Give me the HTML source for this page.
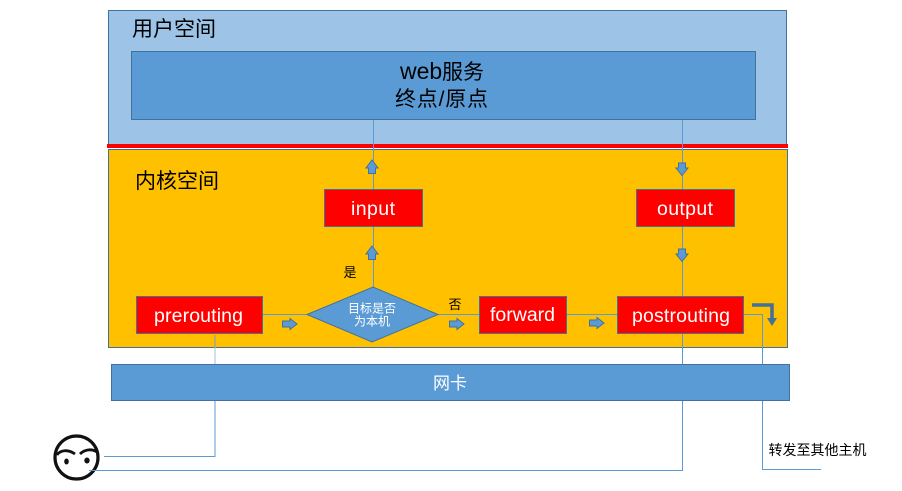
<!DOCTYPE html>
<html><head><meta charset="utf-8">
<style>
html,body{margin:0;padding:0;background:#fff;width:902px;height:491px;overflow:hidden}
svg{display:block}
text{font-family:"Liberation Sans","Noto Sans CJK SC",sans-serif}
</style></head><body>
<svg width="902" height="491" viewBox="0 0 902 491" xmlns="http://www.w3.org/2000/svg">
<rect x="108.500" y="10.500" width="678" height="135" fill="#9dc3e6" stroke="#41719c"/>
<rect x="131.500" y="51.500" width="624" height="68" fill="#5b9bd5" stroke="#41719c"/>
<rect x="108.500" y="149.500" width="679" height="198" fill="#ffc000" stroke="#41719c"/>
<rect x="107" y="144" width="681" height="4" fill="#f00"/>

<g fill="none" stroke="#5b9bd5" stroke-width="1">
<path d="M373.500 120V189M373.500 227V287"/>
<path d="M682.500 120V189M682.500 227V296"/>
<path d="M263 314.500H307M438 314.500H479M567 314.500H617"/>
<path d="M682.500 334V470.500H89"/>
<path d="M215 348V456.500H104" stroke="#9dc3e6"/>
<path d="M215 400V456.500H104"/>
<path d="M744 314.500H762.500V469.500H821"/>
</g>
<path d="M215 335V348" stroke="#a9a68c" stroke-width="1.500"/>
<rect x="111.500" y="364.500" width="678" height="36" fill="#5b9bd5" stroke="#41719c"/>

<g fill="#f00" stroke="#41719c">
<rect x="324.500" y="189.500" width="98" height="37"/>
<rect x="636.500" y="189.500" width="98" height="37"/>
<rect x="136.500" y="296.500" width="126" height="37"/>
<rect x="479.500" y="296.500" width="87" height="37"/>
<rect x="617.500" y="296.500" width="126" height="37"/>
</g>
<polygon points="307,314.500 373,287 438,314.500 372,342" fill="#5b9bd5" stroke="#41719c"/>

<g fill="#5b9bd5" stroke="#41719c" stroke-width="1">
<polygon points="372,160 378,168 375.500,168 375.500,173.500 368.500,173.500 368.500,168 366,168"/>
<polygon points="372,246 378,254 375.500,254 375.500,259.500 368.500,259.500 368.500,254 366,254"/>
<polygon points="682,175.500 688,168 685.500,168 685.500,163 678.500,163 678.500,168 676,168"/>
<polygon points="682,261.500 688,254 685.500,254 685.500,249 678.500,249 678.500,254 676,254"/>
<polygon points="297,324 290,318.500 290,321 282.500,321 282.500,327 290,327 290,329.500"/>
<polygon points="464,324 457,318.500 457,321 449.500,321 449.500,327 457,327 457,329.500"/>
<polygon points="604,323 597,317.500 597,320 589.500,320 589.500,326 597,326 597,328.500"/>
</g>
<path d="M752 305H772V320" fill="none" stroke="#41719c" stroke-width="3.500"/>
<polygon points="772,326 777,318 767,318" fill="#41719c"/>

<g>
<circle cx="76.500" cy="457.500" r="21.500" fill="#fff" stroke="#111" stroke-width="3.200"/>
<path d="M57 455C60 450 68 449 75 454M80 454C84 450 91 448 97 452" fill="none" stroke="#111" stroke-width="2.800"/>
<ellipse cx="66.500" cy="461.500" rx="2.300" ry="3" fill="#111"/>
<ellipse cx="87" cy="460.500" rx="2.700" ry="3" fill="#111"/>
</g>
<path d="M104 456.500H215M89 470.500H230" fill="none" stroke="#5b9bd5"/>

<g fill="#000">
<text x="132" y="36" font-size="21">用户空间</text>
<text x="135" y="188" font-size="21">内核空间</text>
<text x="400" y="79" font-size="21" textLength="84" lengthAdjust="spacing"><tspan font-size="23">web</tspan>服务</text>
<text x="395" y="106" font-size="21" textLength="93" lengthAdjust="spacing">终点/原点</text>
<text x="350" y="277" font-size="13" text-anchor="middle">是</text>
<text x="455" y="309" font-size="13" text-anchor="middle">否</text>
<text x="768.500" y="455" font-size="14">转发至其他主机</text>
</g>
<g fill="#fff">
<text x="351" y="215" font-size="19.500" textLength="44" lengthAdjust="spacing">input</text>
<text x="657" y="215" font-size="19.500" textLength="56" lengthAdjust="spacing">output</text>
<text x="154" y="322" font-size="19.500" textLength="89" lengthAdjust="spacing">prerouting</text>
<text x="490" y="321" font-size="19.500" textLength="65" lengthAdjust="spacing">forward</text>
<text x="632" y="322" font-size="19.500" textLength="98" lengthAdjust="spacing">postrouting</text>
<text x="372" y="312.500" font-size="12" text-anchor="middle">目标是否</text>
<text x="372" y="325.500" font-size="12" text-anchor="middle">为本机</text>
<text x="450" y="389" font-size="17" text-anchor="middle">网卡</text>
</g>
</svg>
</body></html>
